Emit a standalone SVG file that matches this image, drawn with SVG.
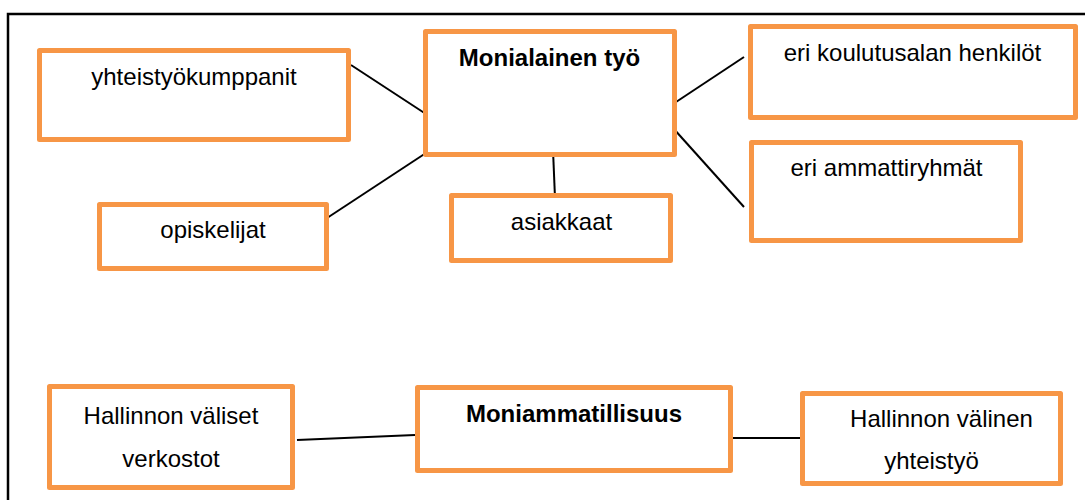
<svg xmlns="http://www.w3.org/2000/svg" width="1085" height="500" viewBox="0 0 1085 500">
<style>
.box{fill:#fff;stroke:#F79646;stroke-width:5;stroke-linejoin:round}
.t{font-family:"Liberation Sans",Arial,sans-serif;font-size:24px;fill:#000;text-anchor:middle}
.b{font-weight:bold}
.c{stroke:#000;stroke-width:2;fill:none}
</style>
<rect x="0" y="0" width="1085" height="500" fill="#fff"/>
<path d="M8,500 V14 H1085" fill="none" stroke="#000" stroke-width="2.5"/>
<g id="connectors">
<line class="c" x1="351" y1="65" x2="429" y2="116"/>
<line class="c" x1="324" y1="220" x2="429" y2="151"/>
<line class="c" x1="553" y1="150" x2="555" y2="198"/>
<line class="c" x1="673" y1="104" x2="744" y2="57"/>
<line class="c" x1="673" y1="128" x2="744" y2="207"/>
<line class="c" x1="297" y1="440" x2="415" y2="435"/>
<line class="c" x1="723" y1="438" x2="817" y2="438"/>
</g>
<g id="monialainen">
<rect class="box" x="425.5" y="31.5" width="249" height="123"/>
<text class="t b" x="549.5" y="66">Monialainen työ</text>
</g>
<g id="yhteistyokumppanit">
<rect class="box" x="39.5" y="50.5" width="309" height="89"/>
<text class="t" x="194" y="85">yhteistyökumppanit</text>
</g>
<g id="opiskelijat">
<rect class="box" x="99.5" y="204.5" width="227" height="64"/>
<text class="t" x="213" y="238">opiskelijat</text>
</g>
<g id="asiakkaat">
<rect class="box" x="451.5" y="195.5" width="219" height="65"/>
<text class="t" x="561.5" y="230">asiakkaat</text>
</g>
<g id="koulutusala">
<rect class="box" x="750.5" y="26.5" width="325" height="91"/>
<text class="t" x="912.5" y="61">eri koulutusalan henkilöt</text>
</g>
<g id="ammattiryhmat">
<rect class="box" x="751.5" y="142.5" width="269" height="98"/>
<text class="t" x="886.5" y="176">eri ammattiryhmät</text>
</g>
<g id="hallinnon-valiset">
<rect class="box" x="49.5" y="386.5" width="243" height="101"/>
<text class="t" x="171" y="424">Hallinnon väliset</text>
<text class="t" x="171" y="467">verkostot</text>
</g>
<g id="moniammatillisuus">
<rect class="box" x="417.5" y="387.5" width="313" height="83"/>
<text class="t b" x="574" y="422">Moniammatillisuus</text>
</g>
<g id="hallinnon-valinen">
<rect class="box" x="802.5" y="393.5" width="258" height="90"/>
<text class="t" x="941.5" y="427">Hallinnon välinen</text>
<text class="t" x="931.5" y="469">yhteistyö</text>
</g>
</svg>
